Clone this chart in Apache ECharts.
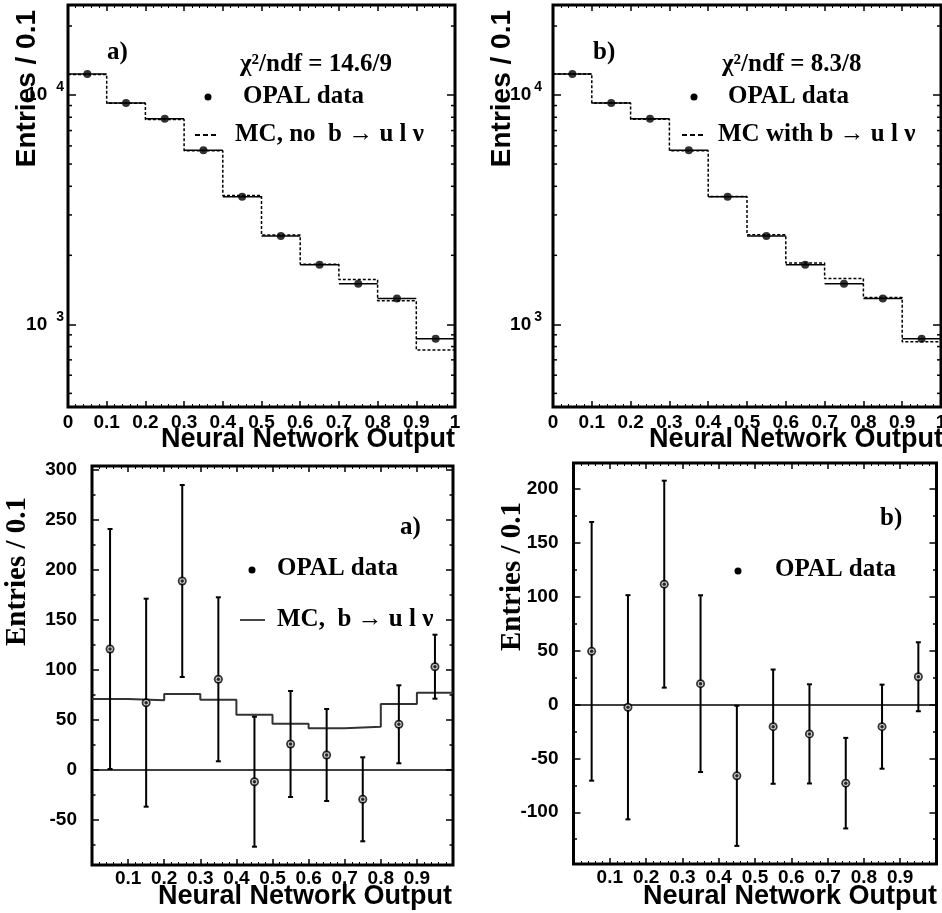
<!DOCTYPE html>
<html>
<head>
<meta charset="utf-8">
<script src="https://cdn.jsdelivr.net/npm/echarts@6/dist/echarts.min.js"></script>
<style>
html, body { margin: 0; padding: 0; background: #fff; }
#chart { width: 942px; height: 913px; }
</style>
</head>
<body>
<div id="chart"></div>
<script>
// neural network output bins
var binLow    = [0.0, 0.1, 0.2, 0.3, 0.4, 0.5, 0.6, 0.7, 0.8, 0.9];
var binHigh   = [0.1, 0.2, 0.3, 0.4, 0.5, 0.6, 0.7, 0.8, 0.9, 1.0];
var binCenter = [0.05, 0.15, 0.25, 0.35, 0.45, 0.55, 0.65, 0.75, 0.85, 0.95];

// upper plots, entries / 0.1 (log scale)
var opalData    = [12350, 9230, 7880, 5750, 3600, 2430, 1820, 1505, 1295, 866];
var mcNoBulnu   = [12300, 9200, 7820, 5720, 3650, 2450, 1830, 1567, 1268, 773];
var mcWithBulnu = [12350, 9230, 7850, 5720, 3610, 2458, 1852, 1583, 1308, 840];
var logMinorTicks = [500, 600, 700, 800, 900, 2000, 3000, 4000, 5000, 6000, 7000, 8000, 9000, 20000];

// lower plots, data minus background
var diffA   = [120.5, 66.8, 188.5, 90.2, -12.2, 25.5, 14.5, -29.8, 45.2, 102.8];
var diffB   = [49.3, -2.6, 111.6, 19.3, -66.2, -20.6, -27.3, -73.0, -20.6, 25.7];
var diffErr = [120, 104, 96, 82, 65, 53, 46, 42, 39, 32];
var mcBulnu = [70.5, 69.2, 75.5, 69.8, 54.8, 45.8, 41.2, 42.8, 65.5, 76.8];

var ticksA      = [-50, 0, 50, 100, 150, 200, 250, 300];
var minorTicksA = [-75, -25, 25, 75, 125, 175, 225, 275];
var ticksB      = [-100, -50, 0, 50, 100, 150, 200];
var minorTicksB = [-125, -75, -25, 25, 75, 125, 175];

var SANS = '"Liberation Sans", Arial, Helvetica, sans-serif';
var SERIF = '"Liberation Serif", "Times New Roman", Times, serif';

var chart = echarts.init(document.getElementById('chart'));

var grids = [
  {left: 68, top: 5, width: 387, height: 402},
  {left: 553, top: 5, width: 388, height: 402},
  {left: 92, top: 466, width: 361, height: 399},
  {left: 573.5, top: 463, width: 363, height: 401}
].map(function(g) {
  return Object.assign({show: true, borderColor: '#000', borderWidth: 3,
    backgroundColor: 'transparent', containLabel: false, outerBoundsMode: 'none'}, g);
});

var tickLine = {color: '#000', width: 1.5};

function xAxesFor(gi, endLabels, labelMargin) {
  var base = {
    gridIndex: gi, type: 'value', min: 0, max: 1, interval: 0.1,
    axisLine: {show: false, onZero: false},
    splitLine: {show: false},
    axisTick: {show: true, inside: true, length: 6, lineStyle: tickLine},
    minorTick: {show: true, splitNumber: 5, length: 3, lineStyle: {color: '#000', width: 1}}
  };
  return [
    Object.assign({}, base, {position: 'bottom', axisLabel: {
      show: true, margin: labelMargin, color: '#000', fontFamily: SANS, fontWeight: 'bold', fontSize: 19,
      showMinLabel: endLabels, showMaxLabel: endLabels}}),
    Object.assign({}, base, {position: 'top', axisLabel: {show: false}})
  ];
}

function logLabel(v) {
  var e = Math.round(Math.log(v) / Math.LN10);
  if (Math.abs(Math.log(v) / Math.LN10 - e) > 1e-6) return '';
  return '{b|10}{s|' + e + '}';
}

function logYAxesFor(gi, supGap, margin) {
  var base = {
    gridIndex: gi, type: 'log', min: 436, max: 24700,
    axisLine: {show: false, onZero: false},
    splitLine: {show: false}, minorTick: {show: false},
    axisTick: {show: true, inside: true, length: 8, lineStyle: tickLine}
  };
  return [
    Object.assign({}, base, {position: 'left', axisLabel: {
      show: true, margin: margin, formatter: logLabel, showMinLabel: false, showMaxLabel: false,
      rich: {
        b: {fontFamily: SANS, fontWeight: 'bold', fontSize: 19, lineHeight: 19, color: '#000'},
        s: {fontFamily: SANS, fontWeight: 'bold', fontSize: 14, lineHeight: 14, color: '#000',
            padding: [0, 0, 15, supGap]}
      }}}),
    Object.assign({}, base, {position: 'right', axisLabel: {show: false}})
  ];
}

function diffYAxesFor(gi, min, max, major, minor, margin) {
  var base = {
    gridIndex: gi, type: 'value', min: min, max: max,
    axisLine: {show: false, onZero: false},
    splitLine: {show: false}, minorTick: {show: false}
  };
  return [
    Object.assign({}, base, {position: 'left',
      axisTick: {show: true, inside: true, length: 7, customValues: major, lineStyle: tickLine},
      axisLabel: {show: true, customValues: major, margin: margin, color: '#000',
        fontFamily: SANS, fontWeight: 'bold', fontSize: 19}}),
    Object.assign({}, base, {position: 'left', axisLabel: {show: false},
      axisTick: {show: true, inside: true, length: 3.5, customValues: minor, lineStyle: tickLine}}),
    Object.assign({}, base, {position: 'right', axisLabel: {show: false},
      axisTick: {show: true, inside: true, length: 7, customValues: major, lineStyle: tickLine}}),
    Object.assign({}, base, {position: 'right', axisLabel: {show: false},
      axisTick: {show: true, inside: true, length: 3.5, customValues: minor, lineStyle: tickLine}})
  ];
}

var xAxes = [].concat(xAxesFor(0, true, 6), xAxesFor(1, true, 6), xAxesFor(2, false, 4.5), xAxesFor(3, false, 4.5));
var yAxes = [].concat(logYAxesFor(0, 9, 4), logYAxesFor(1, 3, 11),
  diffYAxesFor(2, -95.5, 303.5, ticksA, minorTicksA, 15),
  diffYAxesFor(3, -148, 224, ticksB, minorTicksB, 15));

function histLine(values) {
  var pts = binLow.map(function(x, i) { return [x, values[i]]; });
  pts.push([binHigh[binHigh.length - 1], values[values.length - 1]]);
  return pts;
}

function points(values) {
  return binCenter.map(function(x, i) { return [x, values[i]]; });
}

function binBars(values) {
  return binCenter.map(function(x, i) { return [x, values[i], binLow[i], binHigh[i]]; });
}

function errBars(values) {
  return binCenter.map(function(x, i) { return [x, values[i], diffErr[i]]; });
}

function renderBinBar(params, api) {
  var y = api.value(1);
  var a = api.coord([api.value(2), y]);
  var b = api.coord([api.value(3), y]);
  return {type: 'line', shape: {x1: a[0], y1: a[1], x2: b[0], y2: b[1]},
    style: {stroke: '#000', lineWidth: 1.5}};
}

function renderErrBar(params, api) {
  var x = api.value(0), y = api.value(1), e = api.value(2);
  var t = api.coord([x, y + e]);
  var b = api.coord([x, y - e]);
  var st = {stroke: '#000', lineWidth: 2};
  return {type: 'group', children: [
    {type: 'line', shape: {x1: t[0], y1: t[1], x2: b[0], y2: b[1]}, style: st},
    {type: 'line', shape: {x1: t[0] - 2.5, y1: t[1], x2: t[0] + 2.5, y2: t[1]}, style: st},
    {type: 'line', shape: {x1: b[0] - 2.5, y1: b[1], x2: b[0] + 2.5, y2: b[1]}, style: st}
  ]};
}

function renderLogMinor(params, api) {
  var v = api.value(1);
  var l = api.coord([0, v]);
  var r = api.coord([1, v]);
  var st = {stroke: '#000', lineWidth: 1.5};
  return {type: 'group', children: [
    {type: 'line', shape: {x1: l[0], y1: l[1], x2: l[0] + 4, y2: l[1]}, style: st},
    {type: 'line', shape: {x1: r[0] - 4, y1: r[1], x2: r[0], y2: r[1]}, style: st}
  ]};
}

function upperSeries(xi, yi, mc) {
  return [
    {type: 'line', xAxisIndex: xi, yAxisIndex: yi, data: histLine(mc), step: 'end',
      symbol: 'none', lineStyle: {color: '#000', width: 1.5, type: [3, 2]}, z: 2},
    {type: 'custom', xAxisIndex: xi, yAxisIndex: yi, data: binBars(opalData),
      renderItem: renderBinBar, z: 3},
    {type: 'scatter', xAxisIndex: xi, yAxisIndex: yi, data: points(opalData),
      symbol: 'circle', symbolSize: 8, itemStyle: {color: '#000'}, z: 4},
    {type: 'custom', xAxisIndex: xi, yAxisIndex: yi, clip: false,
      data: logMinorTicks.map(function(v) { return [0, v]; }), renderItem: renderLogMinor, z: 5}
  ];
}

function lowerSeries(xi, yi, values) {
  return [
    {type: 'custom', xAxisIndex: xi, yAxisIndex: yi, data: errBars(values),
      renderItem: renderErrBar, z: 3,
      markLine: {silent: true, symbol: ['none', 'none'], label: {show: false},
        lineStyle: {color: '#000', width: 1.5, type: 'solid'}, data: [{yAxis: 0}]}},
    {type: 'scatter', xAxisIndex: xi, yAxisIndex: yi, data: points(values),
      symbol: 'circle', symbolSize: 9, itemStyle: {color: '#000'}, z: 4},
    {type: 'scatter', xAxisIndex: xi, yAxisIndex: yi, data: points(values),
      symbol: 'circle', symbolSize: 5.5, itemStyle: {color: '#fff'}, z: 5},
    {type: 'scatter', xAxisIndex: xi, yAxisIndex: yi, data: points(values),
      symbol: 'circle', symbolSize: 3.5, itemStyle: {color: '#000'}, z: 6}
  ];
}

var series = [].concat(
  upperSeries(0, 0, mcNoBulnu),
  upperSeries(2, 2, mcWithBulnu),
  [{type: 'line', xAxisIndex: 4, yAxisIndex: 4, data: histLine(mcBulnu), step: 'end',
    symbol: 'none', lineStyle: {color: '#333', width: 2}, z: 2}],
  lowerSeries(4, 4, diffA),
  lowerSeries(6, 8, diffB)
);

function txt(x, y, s, font) {
  return {type: 'text', x: x, y: y, z: 100, silent: true,
    style: {text: s, font: font, fill: '#000', align: 'left', verticalAlign: 'middle'}};
}
function vtitle(x, y, s, font) {
  return {type: 'text', x: x, y: y, rotation: Math.PI / 2, z: 100, silent: true,
    style: {text: s, font: font, fill: '#000', align: 'right', verticalAlign: 'middle'}};
}
function htitle(x, y, s) {
  return {type: 'text', x: x, y: y, z: 100, silent: true,
    style: {text: s, font: 'bold 27px ' + SANS, fill: '#000', align: 'right', verticalAlign: 'middle'}};
}
function dot(x, y) {
  return {type: 'circle', shape: {cx: x, cy: y, r: 3.5}, style: {fill: '#000'}, z: 100, silent: true};
}
function seg(x1, x2, y, style) {
  return {type: 'line', shape: {x1: x1, y1: y, x2: x2, y2: y}, style: style, z: 100, silent: true};
}

var LEG = 'bold 25px ' + SERIF;
var dashStyle = {stroke: '#000', lineWidth: 2, lineDash: [5, 3]};

var graphics = [
  vtitle(27.5, 10, 'Entries / 0.1', 'bold 28px ' + SANS),
  vtitle(502.5, 10, 'Entries / 0.1', 'bold 28px ' + SANS),
  vtitle(18, 497, 'Entries / 0.1', 'bold 29px ' + SERIF),
  vtitle(512.5, 502, 'Entries / 0.1', 'bold 29px ' + SERIF),
  htitle(455, 440, 'Neural Network Output'),
  htitle(943, 440, 'Neural Network Output'),
  htitle(452, 897, 'Neural Network Output'),
  htitle(937, 897, 'Neural Network Output'),

  txt(107, 53, 'a)', LEG),
  txt(240, 65, 'χ²/ndf = 14.6/9', LEG),
  dot(208, 97), txt(243, 97, 'OPAL data', LEG),
  seg(195, 218, 135, dashStyle), txt(235, 135, 'MC, no  b \u2192 u l \u03bd', LEG),

  txt(593, 53, 'b)', LEG),
  txt(722, 65, 'χ²/ndf = 8.3/8', LEG),
  dot(694, 97), txt(728, 97, 'OPAL data', LEG),
  seg(682, 705, 135, dashStyle), txt(718, 135, 'MC with b \u2192 u l \u03bd', LEG),

  txt(400, 528, 'a)', LEG),
  dot(252, 570), txt(277, 569, 'OPAL data', LEG),
  seg(240, 265, 620, {stroke: '#444', lineWidth: 2}), txt(277, 620, 'MC,  b \u2192 u l \u03bd', LEG),

  txt(880, 519, 'b)', LEG),
  dot(738, 571), txt(775, 570, 'OPAL data', LEG)
];

chart.setOption({
  animation: false,
  backgroundColor: '#fff',
  grid: grids,
  xAxis: xAxes,
  yAxis: yAxes,
  series: series,
  graphic: {elements: graphics}
});
</script>
</body>
</html>
